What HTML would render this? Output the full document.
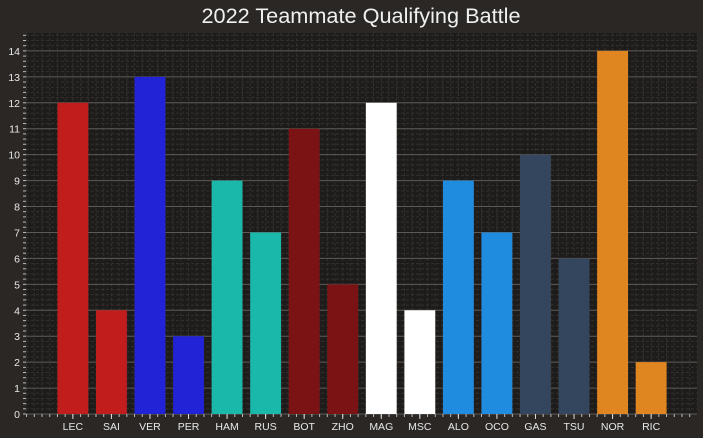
<!DOCTYPE html>
<html><head><meta charset="utf-8"><style>
body{margin:0;background:#2b2725;}
svg{display:block;font-family:"Liberation Sans","DejaVu Sans",sans-serif;}
</style></head><body>
<svg id="chart" width="703" height="438" viewBox="0 0 703 438">
<rect width="703" height="438" fill="#2b2725"/>
<text x="361" y="23" text-anchor="middle" font-size="21.7" fill="#f0f0f0">2022 Teammate Qualifying Battle</text>
<rect x="26" y="33" width="671" height="381" fill="#1e1c1b"/>
<g id="grid"></g><g id="bars"></g><g id="axes"></g>
</svg>
<script>
const drivers=["LEC","SAI","VER","PER","HAM","RUS","BOT","ZHO","MAG","MSC","ALO","OCO","GAS","TSU","NOR","RIC"];
const wins=[12,4,13,3,9,7,11,5,12,4,9,7,10,6,14,2];
const colors=["#c11d1d","#c11d1d","#2222d6","#2222d6","#1ab8ab","#1ab8ab","#7b1214","#7b1214","#ffffff","#ffffff","#208ce0","#208ce0","#34465e","#34465e","#df8620","#df8620"];
const yTicks=[0,1,2,3,4,5,6,7,8,9,10,11,12,13,14];
const L=27,R=697,T=33,B=414,xmin=-1.19,xmax=16.19,ymax=14.69;
const sx=v=>L+(v-xmin)/(xmax-xmin)*(R-L);
const sy=v=>B-v/ymax*(B-T);
const NS="http://www.w3.org/2000/svg";
function mk(t,a,p){const e=document.createElementNS(NS,t);for(const k in a)e.setAttribute(k,a[k]);p.appendChild(e);return e;}
const grid=document.getElementById('grid'),bars=document.getElementById('bars'),axes=document.getElementById('axes');
for(let v=0;v<=ymax;v+=0.2){const y=sy(v);
 const l=mk('line',{x1:26,x2:R,y1:y,y2:y,stroke:'#34302e','stroke-width':1,'stroke-dasharray':'3,2'},grid);
 
 const t=mk('line',{x1:23,x2:26,y1:y,y2:y,stroke:'#bbb','stroke-width':1},axes);
 }
for(let v=-1.2;v<=16.2;v+=0.2){const x=sx(v);if(x<26||x>R)continue;
 const l=mk('line',{x1:x,x2:x,y1:T,y2:B,stroke:'#34302e','stroke-width':1,'stroke-dasharray':'3,2'},grid);
 
 const t=mk('line',{x1:x,x2:x,y1:B,y2:B+3,stroke:'#bbb','stroke-width':1},axes);
 }
yTicks.forEach(v=>{const y=sy(v);
 const l=mk('line',{x1:26,x2:R,y1:y,y2:y,stroke:'#5e5955','stroke-width':1},grid);
 
 const t=mk('text',{x:20,y:y+4,'text-anchor':'end','font-size':10.5,fill:'#e8e8e8'},axes);
 t.textContent=v;});
drivers.forEach((d,i)=>{const x0=sx(i-0.4),x1=sx(i+0.4);
 const r=mk('rect',{x:x0,y:sy(wins[i]),width:x1-x0,height:sy(0)-sy(wins[i]),fill:colors[i]},bars);
 
 const tk=mk('line',{x1:sx(i),x2:sx(i),y1:B,y2:B+5,stroke:'#ddd','stroke-width':1},axes);
 
 const t=mk('text',{x:sx(i),y:B+16,'text-anchor':'middle','font-size':10.5,fill:'#e8e8e8'},axes);
 t.textContent=d;});
</script>
</body></html>
